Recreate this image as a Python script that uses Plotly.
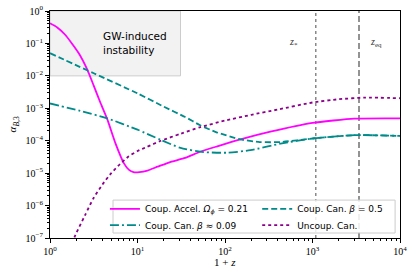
import math
import plotly.graph_objects as go

# ---- data (1+z, alpha_B3) ----
accel_x = [1, 1.2, 1.5, 2.14, 2.66, 3.16, 3.76, 4.5, 5.6, 7.0, 8.0, 9.0, 10.5, 13, 17, 24, 35, 52, 80, 150, 330, 1000, 3000, 10000]
accel_y = [0.417, 0.316, 0.182, 0.049, 0.0158, 5.0e-3, 1.51e-3, 4.7e-4, 8.3e-5, 2.0e-5, 1.26e-5, 1.07e-5, 1.07e-5, 1.2e-5, 1.58e-5, 2.24e-5, 2.95e-5, 4.57e-5, 6.6e-5, 1.1e-4, 1.9e-4, 3.55e-4, 4.8e-4, 4.9e-4]

can05_x = [1, 3.16, 10, 20, 35, 52, 80, 150, 250, 430, 1000, 3000, 10000]
can05_y = [0.050, 0.0120, 2.88e-3, 1.12e-3, 5.4e-4, 3.0e-4, 1.82e-4, 1.1e-4, 9.1e-5, 9.1e-5, 1.17e-4, 1.48e-4, 1.41e-4]

can009_x = [1, 2.23, 4.5, 10, 18.3, 31, 57, 107, 195, 430, 1000, 3000, 10000]
can009_y = [1.41e-3, 8.3e-4, 4.9e-4, 2.19e-4, 1.07e-4, 6.0e-5, 4.47e-5, 4.27e-5, 5.1e-5, 8.1e-5, 1.17e-4, 1.48e-4, 1.41e-4]

uncoup_x = [1.585, 1.95, 2.51, 3.16, 3.98, 5.01, 6.31, 7.94, 10, 12.9, 18.2, 31.6, 52.5, 100, 200, 398, 1000, 2000, 3980, 10000]
uncoup_y = [3.2e-8, 1.23e-7, 5.0e-7, 1.74e-6, 4.47e-6, 1.0e-5, 1.9e-5, 3.3e-5, 4.8e-5, 6.5e-5, 9.8e-5, 1.66e-4, 2.63e-4, 4.17e-4, 6.3e-4, 9.1e-4, 1.51e-3, 1.9e-3, 2.14e-3, 2.04e-3]

Z_STAR = 1090
Z_EQ = 3400
gw_box_x = [1, 31, 31, 1, 1]
gw_box_y = [1e-2, 1e-2, 1, 1, 1e-2]

xtick_vals = [1, 10, 100, 1000, 10000]
xtick_text = ["10<sup>0</sup>", "10<sup>1</sup>", "10<sup>2</sup>", "10<sup>3</sup>", "10<sup>4</sup>"]
ytick_vals = [1e-7, 1e-6, 1e-5, 1e-4, 1e-3, 1e-2, 1e-1, 1]
ytick_text = ["10<sup>−7</sup>", "10<sup>−6</sup>", "10<sup>−5</sup>", "10<sup>−4</sup>",
              "10<sup>−3</sup>", "10<sup>−2</sup>", "10<sup>−1</sup>", "10<sup>0</sup>"]

MAG = "#ff00ff"
TEAL = "#008b8b"
PURP = "#8b008b"

fig = go.Figure()
fig.add_trace(go.Scatter(x=gw_box_x, y=gw_box_y, mode="lines", fill="toself",
                         fillcolor="#f2f2f2", line=dict(color="#cccccc", width=1),
                         showlegend=False, hoverinfo="skip"))
fig.add_trace(go.Scatter(x=[Z_STAR, Z_STAR], y=[1e-7, 1], mode="lines",
                         line=dict(color="#888888", width=1.5, dash="dot"), showlegend=False))
fig.add_trace(go.Scatter(x=[Z_EQ, Z_EQ], y=[1e-7, 1], mode="lines",
                         line=dict(color="#888888", width=1.8, dash="6px,3px"), showlegend=False))

fig.add_trace(go.Scatter(x=accel_x, y=accel_y, mode="lines", name="Coup. Accel. <i>Ω<sub>ϕ</sub></i> = 0.21",
                         legend="legend",
                         line=dict(color=MAG, width=1.8, shape="spline", smoothing=0.5)))
fig.add_trace(go.Scatter(x=can009_x, y=can009_y, mode="lines", name="Coup. Can. <i>β</i> ≈ 0.09",
                         legend="legend2",
                         line=dict(color=TEAL, width=1.8, dash="9px,3px,2px,3px", shape="spline", smoothing=0.6)))
fig.add_trace(go.Scatter(x=can05_x, y=can05_y, mode="lines", name="Coup. Can. <i>β</i> = 0.5",
                         legend="legend3",
                         line=dict(color=TEAL, width=1.8, dash="6px,3px", shape="spline", smoothing=0.6)))
fig.add_trace(go.Scatter(x=uncoup_x, y=uncoup_y, mode="lines", name="Uncoup. Can.",
                         legend="legend4",
                         line=dict(color=PURP, width=1.8, dash="dot", shape="spline", smoothing=0.6)))

axis_font = dict(family="Liberation Serif, serif", size=10, color="#000")
fig.update_xaxes(type="log", range=[0, 4], tickvals=xtick_vals, ticktext=xtick_text,
                 ticks="outside", ticklen=4, tickwidth=1, tickcolor="#000", automargin=False,
                 showline=True, linecolor="#000", linewidth=1, mirror=True,
                 showgrid=False, zeroline=False, tickfont=axis_font,
                 minor=dict(ticks="outside", ticklen=2, tickcolor="#000",
                            tickvals=[m * 10 ** e for e in range(0, 4) for m in range(2, 10)]))
fig.update_yaxes(type="log", range=[-7, 0], tickvals=ytick_vals, ticktext=ytick_text,
                 ticks="outside", ticklen=4, tickwidth=1, tickcolor="#000", automargin=False,
                 showline=True, linecolor="#000", linewidth=1, mirror=True,
                 showgrid=False, zeroline=False, tickfont=axis_font,
                 minor=dict(ticks="outside", ticklen=2, tickcolor="#000",
                            tickvals=[m * 10 ** e for e in range(-7, 0) for m in range(2, 10)]))

# axis titles
fig.add_annotation(x=0.5, y=-0.106, xref="paper", yref="paper", yanchor="middle",
                   text="1 + <i>z</i>", showarrow=False,
                   font=dict(family="Liberation Serif, serif", size=11, color="#000"))
fig.add_annotation(x=-0.106, y=0.5, xref="paper", yref="paper", xanchor="center",
                   text="<i>α</i><sub><i>B</i>,3</sub>", showarrow=False, textangle=-90,
                   font=dict(family="Liberation Serif, serif", size=11, color="#000"))

fig.add_annotation(x=0.145, y=0.86, xref="paper", yref="paper", xanchor="left", yanchor="middle",
                   text="GW-induced<br>instability", showarrow=False, align="left",
                   font=dict(family="DejaVu Sans", size=10.5, color="#000"))
fig.add_annotation(x=math.log10(Z_STAR), y=0.86, xref="x", yref="paper", xshift=-22, yanchor="middle",
                   text="<i>z</i><sub>*</sub>", showarrow=False,
                   font=dict(family="Liberation Serif, serif", size=10, color="#333"))
fig.add_annotation(x=math.log10(Z_EQ), y=0.86, xref="x", yref="paper", xshift=17, yanchor="middle",
                   text="<i>z</i><sub>eq</sub>", showarrow=False,
                   font=dict(family="Liberation Serif, serif", size=10, color="#333"))

# legend frame
fig.add_shape(type="rect", xref="paper", yref="paper", x0=0.18, x1=0.986, y0=0.022, y1=0.167,
              line=dict(color="#cccccc", width=1), fillcolor="rgba(255,255,255,0.85)", layer="above")

leg_common = dict(bgcolor="rgba(0,0,0,0)", borderwidth=0, yanchor="middle", xanchor="left",
                  font=dict(family="DejaVu Sans", size=9, color="#000"), itemwidth=30)
fig.update_layout(
    width=415, height=278,
    margin=dict(l=50, r=15, t=11, b=40, autoexpand=False),
    paper_bgcolor="white", plot_bgcolor="white",
    hovermode=False,
    legend=dict(x=0.157, y=0.128, **leg_common),
    legend2=dict(x=0.157, y=0.057, **leg_common),
    legend3=dict(x=0.592, y=0.128, **leg_common),
    legend4=dict(x=0.592, y=0.057, **leg_common),
)

fig.write_html("out.html", config={"displayModeBar": False, "staticPlot": False},
               post_script="document.body.style.margin='0';document.body.style.padding='0';")
